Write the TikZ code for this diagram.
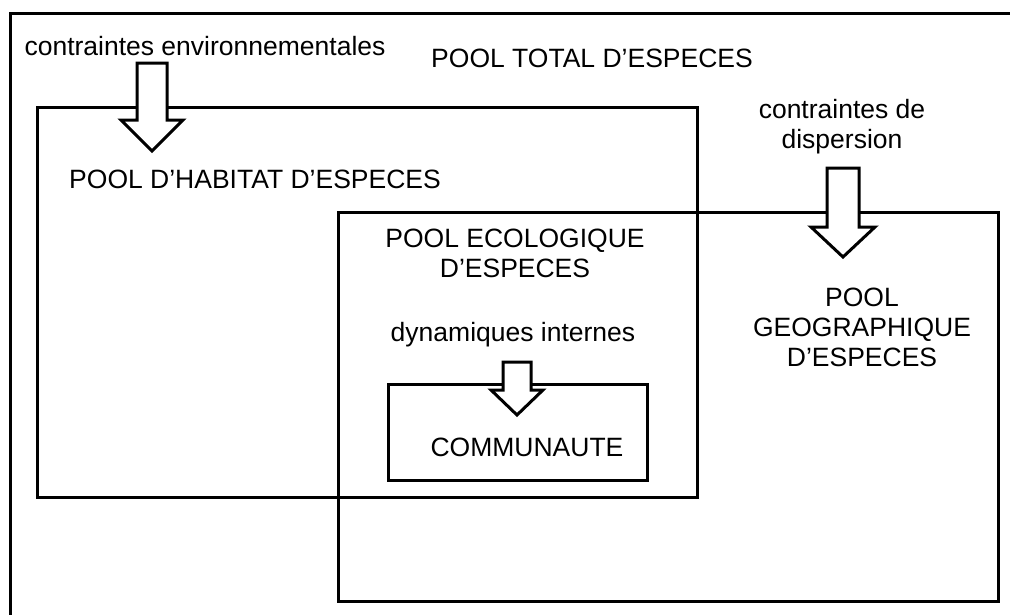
\documentclass[tikz,border=0pt]{standalone}
\usepackage{fontspec}
\setmainfont{Liberation Sans}
\begin{document}
\begin{tikzpicture}[x=1pt,y=-1pt,
  box/.style={draw=black,line width=3pt,fill=none,inner sep=0pt,outer sep=0pt},
  blockarrow/.style={draw=black,line width=3pt,fill=white,line join=miter},
  lbl/.style={font=\fontsize{26.5}{30}\selectfont,inner sep=0pt,align=center}]
\useasboundingbox (0,0) rectangle (1010,614);
\clip (0,0) rectangle (1010,614);
\fill[white] (0,0) rectangle (1010,614);
% boxes
\node[box,minimum width=1040pt,minimum height=640pt,anchor=north west] (total) at (10,13) {};
\node[box,minimum width=660pt,minimum height=390pt,anchor=north west] (habitat) at (37,107) {};
\node[box,minimum width=660pt,minimum height=389pt,anchor=north west] (geo) at (338,212) {};
\node[box,minimum width=259pt,minimum height=96pt,anchor=north west] (comm) at (388,384) {};
% block arrows
\draw[blockarrow] (137,63) -- (167,63) -- (167,120) -- (183,120) -- (152,151) -- (121,120) -- (137,120) -- cycle;
\draw[blockarrow] (827,168) -- (859,168) -- (859,227) -- (875,227) -- (843,257) -- (811,227) -- (827,227) -- cycle;
\draw[blockarrow] (503,362) -- (531,362) -- (531,390) -- (543,390) -- (517,415) -- (491,390) -- (503,390) -- cycle;
% labels
\node[lbl] (tenv) at (205,46) {contraintes environnementales};
\node[lbl] (ttotal) at (592,58) {POOL TOTAL D’ESPECES};
\node[lbl] (thab) at (255,179) {POOL D’HABITAT D’ESPECES};
\node[lbl] (tdisp) at (842,127) {contraintes de\\dispersion};
\node[lbl] (teco) at (515,253) {POOL ECOLOGIQUE\\D’ESPECES};
\node[lbl] (tdyn) at (513,335) {dynamiques internes};
\node[lbl] (tcomm) at (527,447) {COMMUNAUTE};
\node[lbl] (tgeo) at (862,327) {POOL\\GEOGRAPHIQUE\\D’ESPECES};
\end{tikzpicture}
\end{document}
